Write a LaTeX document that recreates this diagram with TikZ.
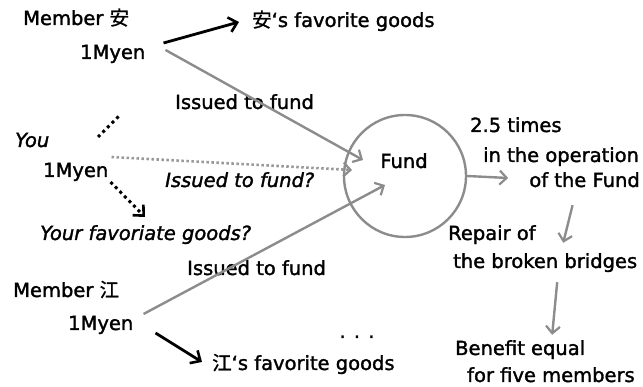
\documentclass[tikz,border=0pt]{standalone}
\usepackage{fontspec}
\setmainfont{DejaVu Sans}[
    BoldFont={DejaVu Sans}, BoldFeatures={FakeBold=1.6},
    BoldItalicFont={DejaVu Sans Oblique}, BoldItalicFeatures={FakeBold=1.6}]
\newfontfamily\cjk{Noto Sans CJK JP}[BoldFont={Noto Sans CJK JP}, BoldFeatures={FakeBold=1}]
\usetikzlibrary{arrows.meta,positioning,calc}
\tikzset{x=1pt, y=-1pt, % One unit is one pixel of the reference, y grows downwards
        every node/.style={ % Sets the properties for each text
            font=\fontsize{19.5}{21}\selectfont\bfseries,
            inner sep=0pt,
            text height=14pt,
            text depth=4pt},
        guess/.style={font=\fontsize{19.5}{21}\selectfont\bfseries\itshape}, % Questions to the reader
        fundline/.style={ % Money issued to the fund
            draw=black!45,
            line width=2.4pt,
            -{Straight Barb[length=7pt,width=14pt,line width=2.2pt]}},
        guessline/.style={ % Your unsure payment
            draw=black!40,
            line width=2.6pt,
            dash pattern=on 2.5pt off 2.5pt,
            -{Straight Barb[length=7pt,width=14pt,line width=2.2pt,color=black!45]}},
        goodsline/.style={ % Spent on favorite goods
            draw=black,
            line width=2.8pt,
            -{Straight Barb[length=8pt,width=15pt,line width=2.6pt]}},
        goodsguess/.style={ % Maybe spent on goods
            draw=black,
            line width=3pt,
            dash pattern=on 3pt off 3.5pt,
            -{Straight Barb[length=8pt,width=15pt,line width=2.6pt]}},
        flowline/.style={ % What the fund yields
            draw=black!45,
            line width=2.4pt,
            -{Straight Barb[length=7pt,width=14pt,line width=2.2pt]}}
        }
\begin{document}
\begin{tikzpicture}
    \useasboundingbox (0,0) rectangle (643,387);

    % member An
    \node[anchor=west] (ma)     at (23,20)  {Member {\cjk 安}};
    \node[anchor=west] (mayen)  at (80,54)  {1Myen};
    \node[anchor=west] (agoods) at (252,22) {{\cjk 安}‘s favorite goods};
    \node[anchor=west] (issue1) at (175,104) {Issued to fund};

    % you
    \node[anchor=west,guess] (you)    at (15,142)  {You};
    \node[anchor=west]       (youyen) at (43,172)  {1Myen};
    \node[anchor=west,guess] (issue2) at (165,182) {Issued to fund?};
    \node[anchor=west,guess] (ygoods) at (40,235)  {Your favoriate goods?};
    \coordinate (more1) at (98,137);
    \coordinate (more2) at (119,116);

    % member Kou
    \node[anchor=west] (issue3) at (187,270) {Issued to fund};
    \node[anchor=west] (mj)     at (13,292)  {Member {\cjk 江}};
    \node[anchor=west] (jyen)   at (68,325)  {1Myen};
    \node[anchor=west] (jgoods) at (212,365) {{\cjk 江}‘s favorite goods};
    \node              (more3)  at (357,333) {. . .};

    % the fund
    \node[circle,draw=black!45,line width=2.4pt,minimum size=122pt] (fund) at (405,176) {};
    \node (fundtext) at (404,163) {Fund};

    \node[anchor=west] (op1) at (470,127) {2.5 times};
    \node[anchor=west] (op2) at (483,157) {in the operation};
    \node[anchor=east] (op3) at (640,182) {of the Fund};
    \node[anchor=west] (rp1) at (448,235) {Repair of};
    \node[anchor=west] (rp2) at (453,263) {the broken bridges};
    \node[anchor=west] (bf1) at (455,350) {Benefit equal};
    \node[anchor=west] (bf2) at (467,377) {for five members};

    \draw[goodsline]  ($(mayen.east)+(18,-11)$) -- ($(agoods.west)+(-13,0)$);
    \draw[fundline]   ($(mayen.east)+(20,-4)$) -- ($(fund.center)+(-42,-16)$);
    \draw[guessline]  ($(youyen.east)+(3,-15)$) -- ($(fund.center)+(-53,-6)$);
    \draw[goodsguess] ($(youyen.east)+(2,10)$) -- ($(ygoods.west)+(105,-18)$);
    \draw[black,line width=3pt,dash pattern=on 3pt off 3.5pt] (more1) -- (more2);
    \draw[fundline]   ($(jyen.east)+(10,-11)$) -- ($(fund.center)+(-20,9)$);
    \draw[goodsline]  ($(jyen.east)+(22,8)$) -- ($(jgoods.west)+(-10,-3)$);

    \draw[flowline] (fund.east) -- ($(op3.west)+(-21,-4)$);
    \draw[flowline] ($(op3.south)+(-12,14)$) -- ($(rp2.north)+(18,-11)$);
    \draw[flowline] ($(rp2.south)+(12,10)$) -- ($(bf1.north)+(32,-6)$);
\end{tikzpicture}
\end{document}
